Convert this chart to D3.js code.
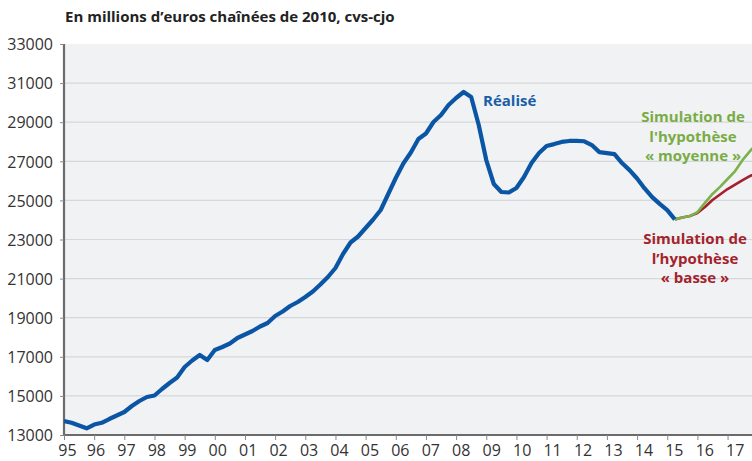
<!DOCTYPE html>
<html><head><meta charset="utf-8">
<script src="https://cdn.jsdelivr.net/npm/d3@7"></script>
<style>body{margin:0;background:#fff}svg{display:block}text{font-family:"Open Sans","DejaVu Sans",sans-serif}</style>
</head><body><svg id="c" width="752" height="461"></svg>
<script>
const startYear = 1995; // quarterly from 1995Q1
const realise = [13716,13629,13486,13343,13537,13624,13818,13997,14176,14483,14739,14944,15020,15353,15660,15941,
16478,16811,17092,16836,17348,17501,17680,17962,18141,18320,18550,18729,19087,19317,19598,19803,
20059,20340,20698,21082,21542,22258,22847,23153,23588,24023,24509,25327,26146,26887,27450,28141,
28422,29010,29368,29880,30238,30545,30289,28857,27066,25839,25430,25404,25634,26197,26913,27420,
27780,27880,27990,28040,28040,28025,27830,27470,27420,27370,26910,26550,26120,25610,25170,24820,
24500,24030];
const simStart = 81;
const moyenne = [24030,24125,24200,24400,24870,25330,25690,26095,26500,27070,27530,27940];
const basse   = [24030,24125,24200,24355,24660,25020,25300,25580,25810,26040,26250,26430];
const yTicks = [13000,15000,17000,19000,21000,23000,25000,27000,29000,31000,33000];
const xLabels = ["95","96","97","98","99","00","01","02","03","04","05","06","07","08","09","10","11","12","13","14","15","16","17"];

const svg = d3.select("#c");
const L=64, R=752, T=44, B=435;
const x = d3.scaleLinear().domain([1995, 2017.81]).range([L, R]);
const y = d3.scaleLinear().domain([13000, 33000]).range([B, T]);
const q = k => startYear + k/4;

svg.append("rect").attr("x",L).attr("y",T).attr("width",R-L).attr("height",B-T).attr("fill","#f1f2f4");
svg.append("g").selectAll("line").data(yTicks.slice(1,-1)).join("line")
  .attr("x1",L).attr("x2",R).attr("y1",d=>y(d)).attr("y2",d=>y(d)).attr("stroke","#d6d7d9").attr("stroke-width",1.2);

const yAxis = svg.append("g").attr("transform",`translate(${L},0)`)
  .call(d3.axisLeft(y).tickValues(yTicks).tickSize(4).tickPadding(7).tickFormat(d3.format("d")));
yAxis.select(".domain").attr("stroke","#6b6b6b").attr("stroke-width",2.2).attr("d",`M0,${T}V${B}`);
yAxis.selectAll(".tick line").attr("stroke","#888");
yAxis.selectAll(".tick text").attr("font-size",16).attr("fill","#333").attr("dy","0.36em");

const years = d3.range(1995, 2018);
const xAxis = svg.append("g").attr("transform",`translate(0,${B})`)
  .call(d3.axisBottom(x).tickValues(years).tickSize(5).tickPadding(5).tickFormat((d,i)=>xLabels[i]));
xAxis.select(".domain").attr("stroke","#6b6b6b").attr("stroke-width",2.2).attr("d",`M${L},0H${R}`);
xAxis.selectAll(".tick line").attr("stroke","#888");
xAxis.selectAll(".tick text").attr("font-size",16).attr("fill","#333").attr("dy","0.7em")
  .attr("dx",(d,i)=> i===0 ? 3 : 1 + i*0.28);

svg.append("defs").append("clipPath").attr("id","clip").append("rect").attr("x",L).attr("y",T).attr("width",R-L).attr("height",B-T);
const line = d3.line().x(d=>x(q(d.k))).y(d=>y(d.v));
const g = svg.append("g").attr("clip-path","url(#clip)");
g.append("path").datum(basse.map((v,i)=>({k:simStart+i,v}))).attr("d",line)
  .attr("fill","none").attr("stroke","#a51f2c").attr("stroke-width",2.6).attr("stroke-linejoin","round");
g.append("path").datum(moyenne.map((v,i)=>({k:simStart+i,v}))).attr("d",line)
  .attr("fill","none").attr("stroke","#7db24a").attr("stroke-width",2.6).attr("stroke-linejoin","round");
g.append("path").datum(realise.map((v,k)=>({k,v}))).attr("d",line)
  .attr("fill","none").attr("stroke","#0b56a4").attr("stroke-width",4.2).attr("stroke-linejoin","round");

svg.append("text").attr("x",65).attr("y",22).attr("font-size",15).attr("font-weight","bold").attr("fill","#222")
  .text("En millions d’euros chaînées de 2010, cvs-cjo");
svg.append("text").attr("x",483).attr("y",106).attr("font-size",15).attr("font-weight","bold").attr("fill","#1b5ea6").text("Réalisé");
const gl = svg.append("text").attr("font-size",15).attr("font-weight","bold").attr("fill","#79ac45").attr("text-anchor","middle");
["Simulation de","l'hypothèse","« moyenne »"].forEach((t,i)=>gl.append("tspan").attr("x",693).attr("y",122+i*19.5).text(t));
const rl = svg.append("text").attr("font-size",15).attr("font-weight","bold").attr("fill","#a3232d").attr("text-anchor","middle");
["Simulation de","l’hypothèse","« basse »"].forEach((t,i)=>rl.append("tspan").attr("x",695).attr("y",244+i*19.5).text(t));
</script></body></html>
